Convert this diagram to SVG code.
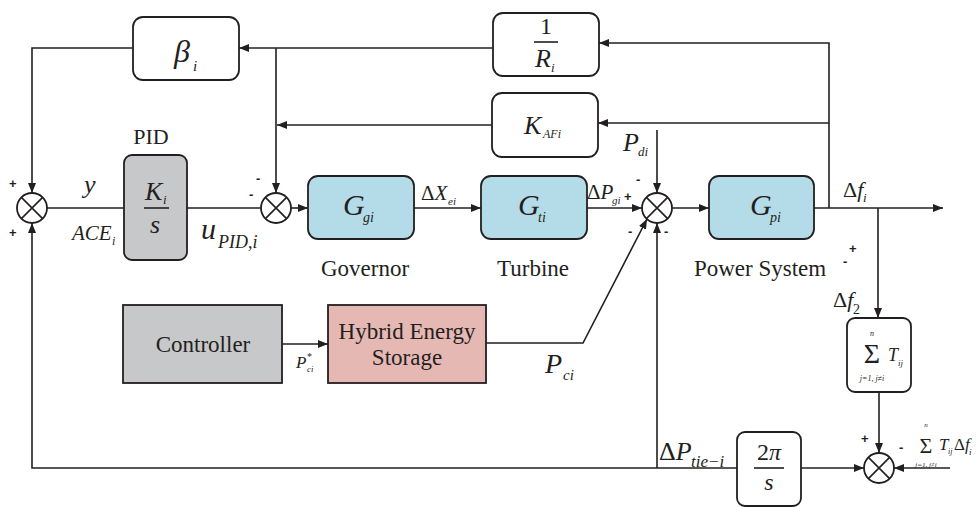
<svg xmlns="http://www.w3.org/2000/svg" width="976" height="507" viewBox="0 0 976 507">
<style>
.box{fill:#fff;stroke:#231f20;stroke-width:1.8}
.blue{fill:#b4dce8}
.gray{fill:#c7c8ca}
.pink{fill:#e6b8b4}
.ln{fill:none;stroke:#231f20;stroke-width:1.6}
.sum{fill:#fff;stroke:#231f20;stroke-width:1.8}
.t{fill:#231f20}
.m{font-style:italic;fill:#231f20}
.s{font-weight:bold;font-size:13px;fill:#231f20}
</style>
<defs>
<marker id="ar" viewBox="0 0 10 8" refX="10" refY="4" markerWidth="10" markerHeight="8" markerUnits="userSpaceOnUse" orient="auto">
<path d="M0,0 L10,4 L0,8 Z" fill="#231f20"/>
</marker>
<g id="x"><circle r="15" class="sum"/><path d="M-10.6,-10.6 L10.6,10.6 M-10.6,10.6 L10.6,-10.6" class="ln"/></g>
</defs>
<rect width="976" height="507" fill="#fff"/>

<g id="connectors">
<path class="ln" d="M814,208 H943" marker-end="url(#ar)"/>
<path class="ln" d="M829,208 V43 H599" marker-end="url(#ar)"/>
<path class="ln" d="M829,123 H598" marker-end="url(#ar)"/>
<path class="ln" d="M493,48 H239" marker-end="url(#ar)"/>
<path class="ln" d="M133,48 H32 V193" marker-end="url(#ar)"/>
<path class="ln" d="M492,125 H277" marker-end="url(#ar)"/>
<path class="ln" d="M276,48 V193" marker-end="url(#ar)"/>
<path class="ln" d="M47,208 H124"/>
<path class="ln" d="M187,208 H261"/>
<path class="ln" d="M291,208 H308" marker-end="url(#ar)"/>
<path class="ln" d="M414,208 H481" marker-end="url(#ar)"/>
<path class="ln" d="M587,208 H642" marker-end="url(#ar)"/>
<path class="ln" d="M657,130 V193" marker-end="url(#ar)"/>
<path class="ln" d="M672,208 H709" marker-end="url(#ar)"/>
<path class="ln" d="M282,344 H328" marker-end="url(#ar)"/>
<path class="ln" d="M486,343 H583 L647,219" marker-end="url(#ar)"/>
<path class="ln" d="M657,468 V223" marker-end="url(#ar)"/>
<path class="ln" d="M737,468 H32 V223" marker-end="url(#ar)"/>
<path class="ln" d="M801,468 H864" marker-end="url(#ar)"/>
<path class="ln" d="M878,208 V318" marker-end="url(#ar)"/>
<path class="ln" d="M879,392 V453" marker-end="url(#ar)"/>
<path class="ln" d="M950,468 H894" marker-end="url(#ar)"/>
</g>

<g id="beta">
<rect x="133" y="17" width="106" height="63" rx="10" class="box"/>
<text x="174" y="62" class="m" font-family="Liberation Serif" font-size="32">β</text><text x="193" y="71" class="m" font-family="Liberation Serif" font-size="15">i</text>
</g>
<g id="invR">
<rect x="493" y="13" width="106" height="63" rx="10" class="box"/>
<text x="546" y="34" class="t" font-family="Liberation Serif" font-size="24" text-anchor="middle">1</text>
<path d="M534,42 H558" class="ln" stroke-width="1.2"/>
<text x="535" y="67" class="m" font-family="Liberation Serif" font-size="26">R</text><text x="551" y="72" class="m" font-family="Liberation Serif" font-size="13">i</text>
</g>
<g id="kafi">
<rect x="492" y="93" width="106" height="64" rx="10" class="box"/>
<text x="524" y="134" class="m" font-family="Liberation Serif" font-size="26">K</text><text x="543" y="138" class="m" font-family="Liberation Serif" font-size="12">AFi</text>
</g>
<g id="pid">
<text x="151" y="144" class="t" font-family="Liberation Serif" font-size="22" text-anchor="middle">PID</text>
<rect x="124" y="155" width="63" height="105" rx="8" class="box gray"/>
<text x="145" y="200" class="m" font-family="Liberation Serif" font-size="26">K</text><text x="163" y="204" class="m" font-family="Liberation Serif" font-size="13">i</text>
<path d="M144,208 H169" class="ln" stroke-width="1.2"/>
<text x="155" y="233" class="m" font-family="Liberation Serif" font-size="26" text-anchor="middle">s</text>
</g>
<g id="sum1">
<use href="#x" x="32" y="208"/>
<text x="9" y="188" class="s" font-family="Liberation Sans">+</text>
<text x="9" y="237" class="s" font-family="Liberation Sans">+</text>
</g>
<g id="sum2">
<use href="#x" x="276" y="208"/>
<text x="256" y="183" class="s" font-family="Liberation Sans">-</text>
<text x="249" y="199" class="s" font-family="Liberation Sans">-</text>
</g>
<g id="governor">
<rect x="308" y="176" width="106" height="63" rx="10" class="box blue"/>
<text x="343" y="215" class="m" font-family="Liberation Serif" font-size="30">G</text><text x="363" y="222" class="m" font-family="Liberation Serif" font-size="14">gi</text>
<text x="365" y="276" class="t" font-family="Liberation Serif" font-size="23" text-anchor="middle">Governor</text>
</g>
<g id="turbine">
<rect x="481" y="176" width="106" height="63" rx="10" class="box blue"/>
<text x="518" y="215" class="m" font-family="Liberation Serif" font-size="30">G</text><text x="538" y="222" class="m" font-family="Liberation Serif" font-size="14">ti</text>
<text x="533" y="276" class="t" font-family="Liberation Serif" font-size="23" text-anchor="middle">Turbine</text>
</g>
<g id="sum3">
<use href="#x" x="657" y="208"/>
<text x="624" y="201" class="s" font-family="Liberation Sans">+</text>
<text x="636" y="184" class="s" font-family="Liberation Sans">-</text>
<text x="628" y="236" class="s" font-family="Liberation Sans">-</text>
<text x="664" y="236" class="s" font-family="Liberation Sans">-</text>
</g>
<g id="power">
<rect x="709" y="176" width="105" height="63" rx="10" class="box blue"/>
<text x="750" y="215" class="m" font-family="Liberation Serif" font-size="30">G</text><text x="770" y="222" class="m" font-family="Liberation Serif" font-size="14">pi</text>
<text x="760" y="276" class="t" font-family="Liberation Serif" font-size="23" text-anchor="middle">Power System</text>
</g>
<g id="controller">
<rect x="123" y="305" width="159" height="78" class="box gray"/>
<text x="203" y="352" class="t" font-family="Liberation Serif" font-size="23" text-anchor="middle">Controller</text>
</g>
<g id="hes">
<rect x="328" y="305" width="158" height="78" class="box pink"/>
<text x="407" y="339" class="t" font-family="Liberation Serif" font-size="23" text-anchor="middle">Hybrid Energy</text>
<text x="407" y="365" class="t" font-family="Liberation Serif" font-size="23" text-anchor="middle">Storage</text>
</g>
<g id="sigma">
<rect x="847" y="318" width="64" height="74" rx="8" class="box"/>
<text x="872" y="336" class="m" font-family="Liberation Serif" font-size="8" text-anchor="middle">n</text>
<text x="872" y="363" class="t" font-family="Liberation Serif" font-size="28" text-anchor="middle">Σ</text>
<text x="872" y="381" class="m" font-family="Liberation Serif" font-size="8" text-anchor="middle">j=1, j≠i</text>
<text x="888" y="361" class="m" font-family="Liberation Serif" font-size="18">T</text><text x="898" y="366" class="m" font-family="Liberation Serif" font-size="9">ij</text>
</g>
<g id="twopi">
<rect x="737" y="432" width="64" height="74" rx="8" class="box"/>
<text x="769" y="460" class="t" font-family="Liberation Serif" font-size="24" text-anchor="middle">2<tspan class="m">π</tspan></text>
<path d="M754,468 H784" class="ln" stroke-width="1.2"/>
<text x="769" y="490" class="m" font-family="Liberation Serif" font-size="24" text-anchor="middle">s</text>
</g>
<g id="sum4">
<use href="#x" x="879" y="468"/>
<text x="861" y="443" class="s" font-family="Liberation Sans">+</text>
<text x="899" y="452" class="s" font-family="Liberation Sans">-</text>
</g>

<g id="labels">
<text x="84" y="193" class="m" font-family="Liberation Serif" font-size="26">y</text>
<text x="72" y="240" class="m" font-family="Liberation Serif" font-size="21">ACE</text><text x="112" y="245" class="m" font-family="Liberation Serif" font-size="12">i</text>
<text x="201" y="239" class="m" font-family="Liberation Serif" font-size="30">u</text><text x="218" y="248" class="m" font-family="Liberation Serif" font-size="18">PID,i</text>
<text x="421" y="200" class="t" font-family="Liberation Serif" font-size="21">Δ<tspan class="m">X</tspan></text><text x="448" y="205" class="m" font-family="Liberation Serif" font-size="11">ei</text>
<text x="587" y="199" class="t" font-family="Liberation Serif" font-size="21">Δ<tspan class="m">P</tspan></text><text x="612" y="204" class="m" font-family="Liberation Serif" font-size="11">gi</text>
<text x="623" y="151" class="m" font-family="Liberation Serif" font-size="26">P</text><text x="638" y="156" class="m" font-family="Liberation Serif" font-size="13">di</text>
<text x="843" y="197" class="t" font-family="Liberation Serif" font-size="22">Δ<tspan class="m">f</tspan></text><text x="863" y="202" class="m" font-family="Liberation Serif" font-size="13">i</text>
<text x="849" y="253" class="s" font-family="Liberation Sans">+</text>
<text x="843" y="266" class="s" font-family="Liberation Sans">-</text>
<text x="833" y="307" class="t" font-family="Liberation Serif" font-size="22">Δ<tspan class="m">f</tspan></text><text x="853" y="314" class="t" font-family="Liberation Serif" font-size="14">2</text>
<text x="296" y="368" class="m" font-family="Liberation Serif" font-size="17">P</text><text x="307" y="360" class="t" font-family="Liberation Serif" font-size="10">*</text><text x="307" y="372" class="m" font-family="Liberation Serif" font-size="9">ci</text>
<text x="545" y="373" class="m" font-family="Liberation Serif" font-size="28">P</text><text x="563" y="380" class="m" font-family="Liberation Serif" font-size="15">ci</text>
<text x="659" y="460" class="t" font-family="Liberation Serif" font-size="26">Δ<tspan class="m">P</tspan></text><text x="691" y="467" class="m" font-family="Liberation Serif" font-size="17">tie−i</text>
<text x="926" y="427" class="m" font-family="Liberation Serif" font-size="7" text-anchor="middle">n</text>
<text x="926" y="453" class="t" font-family="Liberation Serif" font-size="22" text-anchor="middle">Σ</text>
<text x="926" y="467" class="m" font-family="Liberation Serif" font-size="7" text-anchor="middle">j=1, j≠i</text>
<text x="939" y="450" class="m" font-family="Liberation Serif" font-size="17">T</text><text x="948" y="454" class="m" font-family="Liberation Serif" font-size="8">ij</text><text x="954" y="450" class="t" font-family="Liberation Serif" font-size="17">Δ<tspan class="m">f</tspan></text><text x="969" y="455" class="m" font-family="Liberation Serif" font-size="9">i</text>
</g>
</svg>
